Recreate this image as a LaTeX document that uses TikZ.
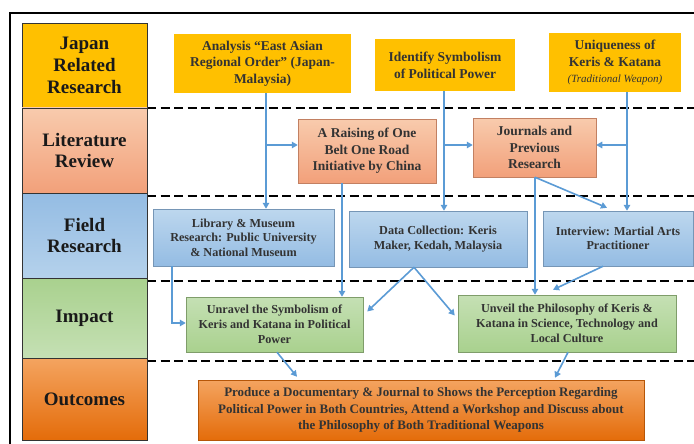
\documentclass[tikz,border=0pt]{standalone}
\usepackage{fontspec}
\setmainfont{Liberation Serif}
\usetikzlibrary{arrows.meta,calc}
\definecolor{gold}{HTML}{FFC000}
\definecolor{salT}{HTML}{F8CBAD}
\definecolor{salB}{HTML}{F2A07A}
\definecolor{bluT}{HTML}{BDD7EE}
\definecolor{bluB}{HTML}{94BCE3}
\definecolor{grnT}{HTML}{C5E0B4}
\definecolor{grnB}{HTML}{A9D18E}
\definecolor{orT}{HTML}{F4A460}
\definecolor{orB}{HTML}{E46C0A}
\definecolor{arrc}{HTML}{5B9BD5}
\definecolor{txt}{HTML}{333333}
\begin{document}
\begin{tikzpicture}[x=1pt,y=-1pt,
  lab/.style={draw=black!80, line width=0.6pt, minimum width=125pt, align=center, inner sep=0pt,
     text=black!90, font=\fontsize{19}{21.7}\selectfont\bfseries},
  bx/.style={align=center, inner sep=0pt, text=txt},
  top/.style={bx, fill=gold, font=\fontsize{13.5}{16.7}\selectfont\bfseries},
  sal/.style={bx, draw=salB!80!black, line width=0.5pt, top color=salT, bottom color=salB, font=\fontsize{13.5}{16.7}\selectfont\bfseries},
  blu/.style={bx, draw=bluB!80!black, line width=0.5pt, top color=bluT, bottom color=bluB, font=\fontsize{12.2}{14.5}\selectfont\bfseries},
  grn/.style={bx, draw=grnB!75!black, line width=0.5pt, top color=grnT, bottom color=grnB, font=\fontsize{12.2}{15}\selectfont\bfseries},
  org/.style={bx, draw=orB!80!black, line width=0.5pt, top color=orT, bottom color=orB, font=\fontsize{13}{16.5}\selectfont\bfseries},
  arr/.style={draw=arrc, line width=1.6pt, -{Triangle[length=6pt,width=6.5pt]}},
  dline/.style={line width=2.3pt, dash pattern=on 9pt off 4.5pt}
]
\useasboundingbox (0,0) rectangle (694,444);
\fill[white] (0,0) rectangle (694,444);
% frame
\draw[line width=2pt] (10,444) -- (10,13) -- (694,13);
% dashed separators
\draw[dline] (147,108) -- (694,108);
\draw[dline] (147,196) -- (694,196);
\draw[dline] (147,281) -- (694,281);
\draw[dline] (147,361) -- (694,361);
% left column
\node[lab, fill=gold, minimum height=85pt] (jap) at (84.5,65.5) {Japan\\Related\\Research};
\node[lab, top color=salT, bottom color=salB, minimum height=85pt] (lit) at (84.5,150.5) {Literature\\Review};
\node[lab, top color=bluB, bottom color=bluT!80!bluB, minimum height=85pt] (fld) at (84.5,235.5) {Field\\Research};
\node[lab, top color=grnB, bottom color=grnT, minimum height=80pt] (imp) at (84.5,318) {Impact};
\node[lab, top color=orT, bottom color=orB, minimum height=82pt] (out) at (84.5,399) {Outcomes};
% top row
\node[top, minimum width=177pt, minimum height=59pt] (an) at (262.5,63.5) {Analysis \char"201C East Asian\\Regional Order\char"201D{} (Japan-\\Malaysia)};
\node[top, minimum width=140pt, minimum height=52pt] (idf) at (445,65) {Identify Symbolism\\of Political Power};
\node[top, minimum width=132pt, minimum height=59pt] (uq) at (615,62.5) {Uniqueness of\\Keris \& Katana\\{\fontsize{11}{13}\selectfont\mdseries\itshape (Traditional Weapon)}};
% literature row
\node[sal, minimum width=138pt, minimum height=64pt] (rais) at (367,151) {A Raising of One\\Belt One Road\\Initiative by China};
\node[sal, minimum width=123pt, minimum height=59pt] (jour) at (534.5,147.5) {Journals and\\Previous\\Research};
% field row
\node[blu, minimum width=181pt, minimum height=57pt] (lib) at (243.5,237.5) {Library \& Museum\\Research: Public University\\\& National Museum};
\node[blu, minimum width=178pt, minimum height=56pt] (data) at (438,239) {Data Collection: Keris\\Maker, Kedah, Malaysia};
\node[blu, minimum width=150pt, minimum height=55pt] (intv) at (618,238.5) {Interview: Martial Arts\\Practitioner};
% impact row
\node[grn, minimum width=177pt, minimum height=55pt] (unr) at (274.5,324.5) {Unravel the Symbolism of\\Keris and Katana in Political\\Power};
\node[grn, minimum width=218pt, minimum height=57pt] (unv) at (567,323.5) {Unveil the Philosophy of Keris \&\\Katana in Science, Technology and\\Local Culture};
% outcome
\node[org, minimum width=446pt, minimum height=60pt] (prod) at (421,410) {Produce a Documentary \& Journal to Shows the Perception Regarding\\Political Power in Both Countries, Attend a Workshop and Discuss about\\the Philosophy of Both Traditional Weapons};
% guide coordinates
\coordinate (xa) at (266,0);
\coordinate (xb) at (444,0);
\coordinate (xc) at (627,0);
\coordinate (xd) at (342,0);
\coordinate (xe) at (535,0);
\coordinate (xf) at (172,0);
\coordinate (xg) at (607,0);
\coordinate (xh) at (414,0);
\coordinate (xi) at (603,0);
\coordinate (xj) at (277,0);
\coordinate (xk) at (297,0);
\coordinate (xl) at (568,0);
\coordinate (xm) at (555,0);
\coordinate (yb) at (0,145);
\coordinate (yl) at (0,323);
% arrows
\draw[arr] (an.south -| xa) -- (lib.north -| xa);
\draw[arr] (yb -| xa) -- (yb -| rais.west);
\draw[arr] (idf.south -| xb) -- (data.north -| xb);
\draw[arr] (yb -| xb) -- (yb -| jour.west);
\draw[arr] (uq.south -| xc) -- (intv.north -| xc);
\draw[arr] (yb -| xc) -- (yb -| jour.east);
\draw[arr] (rais.south -| xd) -- (unr.north -| xd);
\draw[arr] (jour.south -| xe) -- (unv.north -| xe);
\draw[arr] (jour.south -| xe) -- ($(intv.north -| xg)+(0,-3)$);
\draw[arr] (lib.south -| xf) |- (yl -| unr.west);
\draw[arr] (data.south -| xh) -- ($(unr.east)+(4,-13)$);
\draw[arr] (data.south -| xh) -- ($(unv.west)+(-3,-8)$);
\draw[arr] (intv.south -| xi) -- ($(unv.north)+(-14,-5)$);
\draw[arr] (unr.south -| xj) -- ($(prod.north -| xk)+(0,-3)$);
\draw[arr] (unv.south -| xl) -- ($(prod.north -| xm)+(0,-2)$);
\end{tikzpicture}
\end{document}
